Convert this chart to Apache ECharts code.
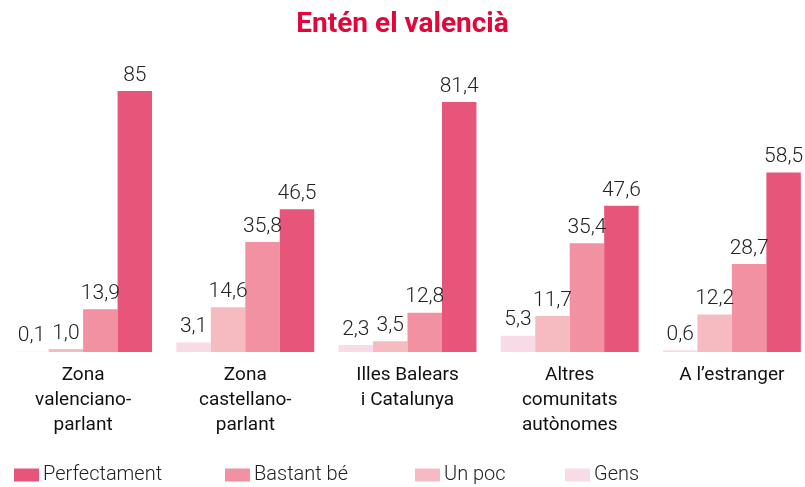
<!DOCTYPE html>
<html>
<head>
<meta charset="utf-8">
<script src="https://cdn.jsdelivr.net/npm/echarts@6/dist/echarts.min.js"></script>
<style>
  html, body { margin: 0; padding: 0; background: #fff; }
  #chart { width: 805px; height: 487px; }
</style>
</head>
<body>
<div id="chart"></div>
<script>
const FONT = "'Roboto', sans-serif";

const categories = [
    'Zona\nvalenciano-\nparlant',
    'Zona\ncastellano-\nparlant',
    'Illes Balears\ni Catalunya',
    'Altres\ncomunitats\nautònomes',
    'A l\u2019estranger'
];

const gens = [0.1, 3.1, 2.3, 5.3, 0.6];
const unPoc = [1.0, 14.6, 3.5, 11.7, 12.2];
const bastantBe = [13.9, 35.8, 12.8, 35.4, 28.7];
const perfectament = [85, 46.5, 81.4, 47.6, 58.5];

const colors = {
    'Gens': '#f9dbe8',
    'Un poc': '#f6bbc1',
    'Bastant bé': '#f191a2',
    'Perfectament': '#e8557a'
};

function fmt(p) {
    const v = p.value;
    if (v === 85) return '85';
    return v.toFixed(1).replace('.', ',');
}

function bar(name, values) {
    return {
        name: name,
        type: 'bar',
        data: values,
        barGap: '0%',
        barCategoryGap: '15%',
        itemStyle: {color: colors[name]},
        label: {
            show: true,
            position: 'top',
            distance: 5,
            formatter: fmt,
            fontFamily: FONT,
            fontSize: 21,
            fontWeight: 300,
            color: '#222'
        }
    };
}

const chart = echarts.init(document.getElementById('chart'));

// one legend per item so each sits where the original has it
const legendLefts = [14, 225, 415, 565];
const legendNames = ['Perfectament', 'Bastant bé', 'Un poc', 'Gens'];

const option = {
    animation: false,
    title: {
        text: 'Entén el valencià',
        left: 'center',
        top: 6,
        textStyle: {fontFamily: FONT, fontSize: 28, fontWeight: 'bold', color: '#e2063a'}
    },
    legend: legendNames.map((n, i) => ({
        data: [n],
        left: legendLefts[i],
        top: 465,
        padding: 0,
        itemWidth: 25,
        itemHeight: 13,
        itemGap: 0,
        icon: 'rect',
        textStyle: {fontFamily: FONT, fontSize: 20, fontWeight: 300, color: '#222', padding: [0, 0, 0, -1]}
    })),
    grid: {left: 2, width: 811, top: 45, height: 307, containLabel: false, outerBoundsMode: 'none'},
    xAxis: {
        type: 'category',
        data: categories,
        axisLine: {show: false},
        axisTick: {show: false},
        axisLabel: {
            margin: 11,
            fontFamily: FONT,
            fontSize: 19,
            lineHeight: 25,
            color: '#111',
            interval: 0
        }
    },
    yAxis: {
        type: 'value',
        min: 0,
        max: 100,
        show: false,
        splitLine: {show: false}
    },
    series: [
        bar('Gens', gens),
        bar('Un poc', unPoc),
        bar('Bastant bé', bastantBe),
        bar('Perfectament', perfectament)
    ]
};

chart.setOption(option);
window.addEventListener('resize', function () {
    chart.resize();
});
</script>
</body>
</html>
